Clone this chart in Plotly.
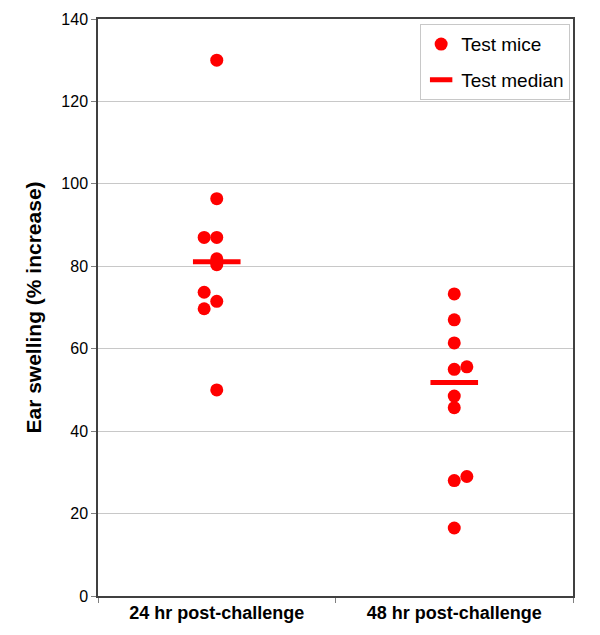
import plotly.graph_objects as go

# category positions and labels
categories = ["24 hr post-challenge", "48 hr post-challenge"]
cat_pos = [1, 2]

# individual mice (% increase); shift = side-by-side offset of overlapping dots
mice_24 = [130.0, 96.4, 87.0, 87.0, 81.8, 80.4, 73.7, 71.5, 69.7, 50.0]
shift_24 = [0, 0, -1, 0, 0, 0, -1, 0, -1, 0]
mice_48 = [73.3, 67.0, 61.4, 55.0, 55.6, 48.5, 45.7, 28.0, 29.0, 16.5]
shift_48 = [0, 0, 0, 0, 1, 0, 0, 0, 1, 0]

medians = [81.1, 51.8]

y_ticks = [0, 20, 40, 60, 80, 100, 120, 140]

RED = "#ff0000"
FONT = "Liberation Sans, Arial, sans-serif"
step = 0.053

xs, ys = [], []
for pos, vals, sh in [(cat_pos[0], mice_24, shift_24), (cat_pos[1], mice_48, shift_48)]:
    for v, s in zip(vals, sh):
        xs.append(pos + s * step)
        ys.append(v)

fig = go.Figure()
fig.add_trace(go.Scatter(
    x=xs, y=ys, mode="markers", name="Test mice", legendgroup="a",
    marker=dict(color=RED, size=13, line=dict(width=0)),
))
fig.add_trace(go.Scatter(
    x=cat_pos, y=medians, mode="markers", name="Test median", legendgroup="b",
    marker=dict(symbol="line-ew", size=34, color=RED,
                line=dict(color=RED, width=5)),
))

fig.update_layout(
    width=592, height=627,
    paper_bgcolor="white", plot_bgcolor="white",
    margin=dict(l=90, r=27, t=11, b=39),
    font=dict(family=FONT, color="black", size=16),
    showlegend=True,
    legend=dict(
        x=0.994, y=0.991, xanchor="right", yanchor="top",
        bgcolor="white", bordercolor="#c8c8c8", borderwidth=1,
        font=dict(size=19), itemwidth=30, tracegroupgap=8,
    ),
)

fig.update_xaxes(
    range=[0.5, 2.5], tickvals=cat_pos,
    ticktext=["<b>%s</b>" % c for c in categories],
    ticks="", showgrid=False, zeroline=False, automargin=False,
    tickfont=dict(size=18, family=FONT, color="black"),
    showline=True, linecolor="#404040", linewidth=1.5, mirror=True,
    minor=dict(tickvals=[0.5, 1.5, 2.5], ticks="outside", ticklen=5,
               tickcolor="#808080", showgrid=False),
)
fig.update_yaxes(
    range=[0, 140], tickvals=y_ticks, automargin=False,
    ticks="outside", ticklen=5, tickcolor="#808080",
    showgrid=True, gridcolor="#c8c8c8", gridwidth=1, zeroline=False,
    showline=True, linecolor="#404040", linewidth=1.5, mirror=True,
    tickfont=dict(size=16, family=FONT, color="black"),
    title=dict(text="<b>Ear swelling (% increase)</b>",
               font=dict(size=21, family=FONT, color="black"), standoff=14),
)

fig.write_html("out.html")
